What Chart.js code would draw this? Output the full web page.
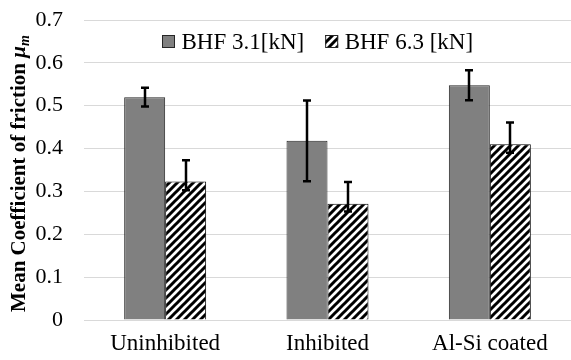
<!DOCTYPE html>
<html>
<head>
<meta charset="utf-8">
<script src="https://cdn.jsdelivr.net/npm/chart.js@4.4.1/dist/chart.umd.min.js"></script>
<style>
  html, body { margin: 0; padding: 0; background: #fff; }
  #wrap { width: 571px; height: 360px; }
</style>
</head>
<body>
<div id="wrap"><canvas id="chart"></canvas></div>
<script>
const categories = ["Uninhibited", "Inhibited", "Al-Si coated"];
const seriesNames = ["BHF 3.1[kN]", "BHF 6.3 [kN]"];
const bhf31 = [0.52, 0.418, 0.548];
const bhf31ErrPlus = [0.022, 0.094, 0.035];
const bhf31ErrMinus = [0.022, 0.094, 0.035];
const bhf63 = [0.323, 0.271, 0.41];
const bhf63ErrPlus = [0.05, 0.051, 0.051];
const bhf63ErrMinus = [0.02, 0.018, 0.02];
const yTicks = [0, 0.1, 0.2, 0.3, 0.4, 0.5, 0.6, 0.7];

const SERIF = "'Liberation Serif', 'Times New Roman', serif";

// diagonal hatch, black stripes on white
function makeHatch() {
  const size = 8;
  const c = document.createElement("canvas");
  c.width = size;
  c.height = size;
  const g = c.getContext("2d");
  g.fillStyle = "#fff";
  g.fillRect(0, 0, size, size);
  g.strokeStyle = "#000";
  g.lineWidth = 3;
  g.beginPath();
  g.moveTo(-2, size + 2);
  g.lineTo(size + 2, -2);
  g.moveTo(-2, 2);
  g.lineTo(2, -2);
  g.moveTo(size - 2, size + 2);
  g.lineTo(size + 2, size - 2);
  g.stroke();
  return g.createPattern(c, "repeat");
}
const hatch = makeHatch();

const errorBars = {
  id: "errorBars",
  afterDatasetsDraw(chart) {
    const ctx = chart.ctx;
    const y = chart.scales.y;
    const errs = [
      [bhf31ErrPlus, bhf31ErrMinus],
      [bhf63ErrPlus, bhf63ErrMinus],
    ];
    ctx.save();
    ctx.strokeStyle = "#000";
    ctx.lineWidth = 2.5;
    chart.data.datasets.forEach((ds, di) => {
      const meta = chart.getDatasetMeta(di);
      meta.data.forEach((bar, i) => {
        const v = ds.data[i];
        const top = y.getPixelForValue(v + errs[di][0][i]);
        const bot = y.getPixelForValue(v - errs[di][1][i]);
        const x = Math.round(bar.x);
        ctx.beginPath();
        ctx.moveTo(x, top);
        ctx.lineTo(x, bot);
        ctx.moveTo(x - 4, top);
        ctx.lineTo(x + 4, top);
        ctx.moveTo(x - 4, bot);
        ctx.lineTo(x + 4, bot);
        ctx.stroke();
      });
    });
    ctx.restore();
  },
};

// legend sits inside the plot, between the 0.7 and 0.6 gridlines
const insideLegend = {
  id: "insideLegend",
  afterDatasetsDraw(chart) {
    const ctx = chart.ctx;
    const area = chart.chartArea;
    const ds = chart.data.datasets;
    ctx.save();
    ctx.font = "23px " + SERIF;
    ctx.textBaseline = "middle";
    ctx.textAlign = "left";
    const cy = area.top + 22;
    let x = area.left + 78;
    ds.forEach((d, i) => {
      ctx.fillStyle = d.backgroundColor;
      ctx.fillRect(x, cy - 7, 13, 13);
      ctx.strokeStyle = "#262626";
      ctx.lineWidth = 1;
      ctx.strokeRect(x + 0.5, cy - 6.5, 12, 12);
      x += 19.5;
      ctx.fillStyle = "#000";
      ctx.fillText(d.label, x, cy + 1);
      x += ctx.measureText(d.label).width + 21;
    });
    ctx.restore();
  },
};

// y axis title with bold italic mu and subscript m
const yTitle = {
  id: "yTitle",
  afterDraw(chart) {
    const ctx = chart.ctx;
    ctx.save();
    ctx.translate(25, 312);
    ctx.rotate(-Math.PI / 2);
    ctx.fillStyle = "#000";
    ctx.textBaseline = "alphabetic";
    ctx.textAlign = "left";
    ctx.font = "bold 21px " + SERIF;
    const main = "Mean Coefficient of friction ";
    ctx.fillText(main, 0, 0);
    let x = ctx.measureText(main).width;
    ctx.font = "italic bold 21px " + SERIF;
    ctx.fillText("\u03bc", x, 0);
    x += ctx.measureText("\u03bc").width;
    ctx.font = "italic bold 14px " + SERIF;
    ctx.fillText("m", x, 4);
    ctx.restore();
  },
};

new Chart(document.getElementById("chart"), {
  type: "bar",
  data: {
    labels: categories,
    datasets: [
      {
        label: seriesNames[0],
        data: bhf31,
        backgroundColor: "#808080",
        borderColor: "#262626",
        borderWidth: 1,
        categoryPercentage: 0.505,
        barPercentage: 1,
      },
      {
        label: seriesNames[1],
        data: bhf63,
        backgroundColor: hatch,
        borderColor: "#000",
        borderWidth: 1,
        categoryPercentage: 0.505,
        barPercentage: 1,
      },
    ],
  },
  options: {
    responsive: true,
    maintainAspectRatio: false,
    animation: false,
    layout: { padding: { top: 20, right: 0, left: 0, bottom: 0 } },
    plugins: {
      legend: { display: false },
      tooltip: { enabled: false },
    },
    scales: {
      x: {
        grid: { display: false },
        border: { display: false },
        ticks: {
          font: { family: SERIF, size: 23 },
          color: "#000",
          padding: 2,
        },
        afterFit(scale) { scale.height = 40; },
      },
      y: {
        min: 0,
        max: 0.7,
        afterBuildTicks(scale) { scale.ticks = yTicks.map(v => ({ value: v })); },
        grid: { color: "#d9d9d9", lineWidth: 1, drawTicks: false },
        border: { display: false },
        ticks: {
          font: { family: SERIF, size: 22 },
          color: "#000",
          padding: 21,
          callback: v => String(v),
        },
        afterFit(scale) {
          scale.width = 84;
          scale.paddingTop = 0;
          scale.paddingBottom = 0;
        },
      },
    },
  },
  plugins: [errorBars, insideLegend, yTitle],
});
</script>
</body>
</html>
